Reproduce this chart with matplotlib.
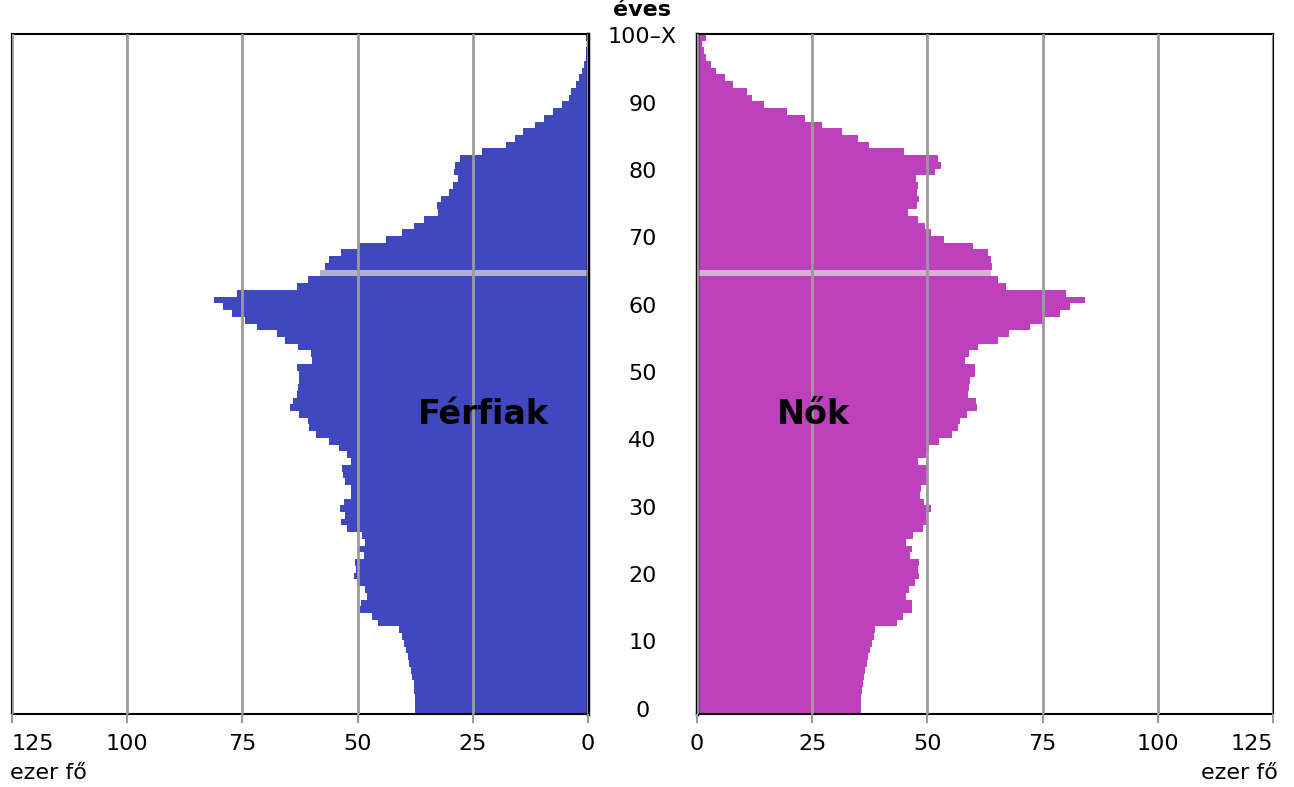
import matplotlib
matplotlib.use("Agg")
import matplotlib.pyplot as plt
import matplotlib.transforms as mtransforms
import numpy as np

plt.rcParams['font.family'] = ['DejaVu Sans']

ages = list(range(0, 101))
age_labels = ['0', '10', '20', '30', '40', '50', '60', '70', '80', '90', '100–X']
age_label_pos = [0, 10, 20, 30, 40, 50, 60, 70, 80, 90, 100]

# ezer fő (thousand persons), ages 0..100+
males = [37.5, 37.5, 37.5, 37.8, 37.8, 38.2, 38.4, 38.8, 39.1, 39.5,
         39.9, 40.4, 41.0, 45.6, 46.9, 49.5, 49.3, 48.0, 48.4, 50.1,
         50.8, 50.3, 50.6, 48.6, 49.7, 48.4, 49.0, 52.3, 53.6, 52.7,
         53.8, 53.0, 51.4, 51.4, 52.7, 53.1, 53.4, 51.4, 52.3, 54.0,
         56.2, 59.0, 60.5, 60.8, 62.7, 64.7, 64.0, 63.2, 62.9, 62.7,
         62.7, 63.2, 59.9, 60.1, 62.9, 65.8, 67.5, 71.8, 74.4, 77.3,
         79.2, 81.2, 76.2, 63.2, 60.7, 58.2, 57.1, 56.2, 53.6, 49.8,
         43.8, 40.4, 37.8, 35.6, 32.6, 32.8, 31.9, 30.2, 29.3, 28.2,
         29.1, 28.9, 27.8, 23.0, 17.8, 15.8, 14.1, 11.5, 9.5, 7.5,
         5.6, 4.1, 3.7, 2.6, 1.9, 1.3, 0.9, 0.5, 0.4, 0.3,
         0.5]
females = [35.6, 35.6, 35.6, 35.8, 36.0, 36.2, 36.5, 36.9, 37.1, 37.5,
           38.0, 38.4, 38.6, 43.4, 44.7, 46.7, 46.7, 45.4, 46.0, 47.3,
           48.2, 48.0, 48.2, 46.2, 46.7, 45.4, 46.9, 49.0, 49.9, 49.7,
           50.8, 49.3, 48.4, 48.6, 49.9, 49.9, 49.9, 48.0, 49.6, 50.4,
           52.5, 55.3, 56.6, 57.1, 58.6, 60.8, 60.5, 58.8, 59.0, 59.2,
           60.3, 60.3, 58.2, 59.0, 61.0, 65.3, 67.7, 72.3, 75.1, 78.8,
           80.9, 84.2, 80.1, 67.1, 65.3, 63.8, 64.0, 63.8, 63.2, 59.9,
           53.6, 50.8, 49.5, 48.0, 45.8, 47.7, 48.2, 47.7, 48.0, 47.5,
           51.6, 53.0, 52.3, 44.9, 37.3, 34.9, 31.5, 27.1, 23.4, 19.5,
           14.5, 11.9, 10.9, 7.8, 6.1, 4.1, 3.0, 1.95, 1.5, 1.1,
           1.95]
highlight_age = 65
xticks = [0, 25, 50, 75, 100, 125]

male_color = '#3F48BF'
female_color = '#BD40BD'
male_hl = '#B0B0D2'
female_hl = '#D4B2D4'
grid_color = '#9A9A9A'

fig = plt.figure(figsize=(12.94, 7.87), dpi=100)
W, H = 1294, 787
bottom = (H - 714) / H
height = 680 / H
axL = fig.add_axes([12 / W, bottom, 576 / W, height])
axR = fig.add_axes([697 / W, bottom, 576 / W, height])

mc = [male_hl if a == highlight_age else male_color for a in ages]
fc = [female_hl if a == highlight_age else female_color for a in ages]
axL.barh(ages, males, height=1.0, color=mc, linewidth=0)
axR.barh(ages, females, height=1.0, color=fc, linewidth=0)

for ax in (axL, axR):
    ax.set_xlim(0, 125)
    ax.set_ylim(-0.5, 100.5)
    ax.set_xticks(xticks)
    ax.set_xticklabels([str(t) for t in xticks])
    ax.set_yticks([])
    ax.set_axisbelow(False)
    ax.grid(axis='x', color=grid_color, linewidth=2)
    ax.tick_params(axis='x', direction='out', length=6.5, width=1.5,
                   color=grid_color, labelsize=16, pad=8)
    for s in ax.spines.values():
        s.set_color('black')
        s.set_linewidth(1.5)
axL.invert_xaxis()
axL.spines['right'].set_linewidth(2.5)
axR.spines['left'].set_linewidth(2.5)

# shift edge labels inward
lblL = axL.get_xticklabels()
lblL[-1].set_horizontalalignment('left')
lblR = axR.get_xticklabels()
lblR[-1].set_horizontalalignment('right')

# age labels in the middle
trans = mtransforms.blended_transform_factory(fig.transFigure, axL.transData)
for p, l in zip(age_label_pos, age_labels):
    axL.text(642.5 / W, p, l, transform=trans, ha='center', va='center',
             fontsize=16, clip_on=False)

fig.text(642.5 / W, 1 - 10 / H, 'éves', ha='center', va='center',
         fontsize=16, fontweight='bold')

axL.text(22.8, 44, 'Férfiak', ha='center', va='center', fontsize=24,
         fontweight='bold', zorder=5)
axR.text(25.2, 44, 'Nők', ha='center', va='center', fontsize=24,
         fontweight='bold', zorder=5)

fig.text(10 / W, 1 - 773 / H, 'ezer fő', ha='left', va='center', fontsize=16)
fig.text(1278 / W, 1 - 773 / H, 'ezer fő', ha='right', va='center', fontsize=16)

fig.savefig('out.png', dpi=100)
